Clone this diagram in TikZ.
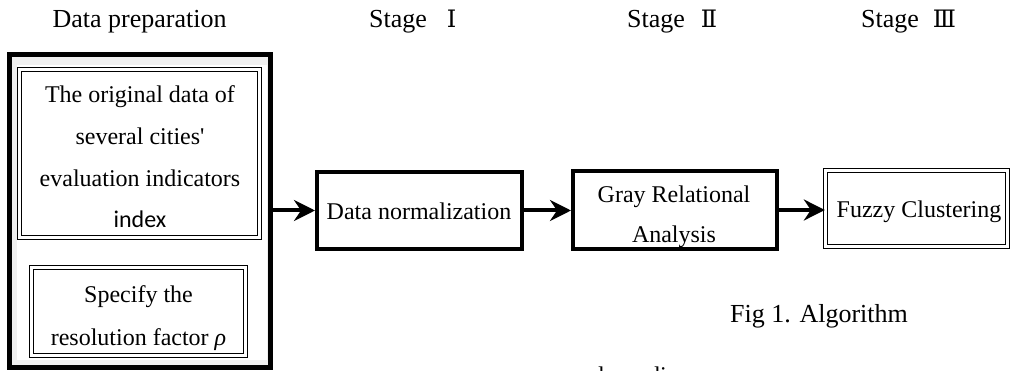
\documentclass[tikz,border=0pt]{standalone}
\usepackage{fontspec}
\setmainfont{Liberation Serif}
\newfontfamily\carlitofont{Carlito}
\newfontfamily\numfont{DejaVu Serif}
\usetikzlibrary{arrows.meta}
\begin{document}
\begin{tikzpicture}[x=1pt,y=-1pt,
  hdr/.style={font=\fontsize{26}{30}\selectfont, inner sep=0pt},
  body/.style={font=\fontsize{24}{41.5}\selectfont, align=center, inner sep=0pt},
  tbox/.style={draw, line width=4pt, inner sep=0pt},
  dbox/.style={draw, line width=1.1pt, double=white, double distance=2.6pt, inner sep=0pt},
  arr/.style={line width=4pt, -{Stealth[length=21pt,width=21pt,inset=7pt]}}]
\useasboundingbox (0,0) rectangle (1015,371);
\clip (0,0) rectangle (1015,371);
% outer preparation frame
\fill[gray!12] (12,57) rectangle (268.5,365);
\fill[white] (17,65) rectangle (267,360);
\node[draw, line width=5pt, inner sep=0pt, minimum width=261pt, minimum height=313pt] (prep) at (140,211) {};
% inner boxes
\node[dbox, minimum width=240.2pt, minimum height=168.2pt] (b1) at (139.5,153.5) {};
\node[dbox, minimum width=214.2pt, minimum height=88.2pt] (b2) at (138.5,311.5) {};
\node[tbox, minimum width=204.5pt, minimum height=77pt] (dn) at (419.25,210.5) {};
\node[tbox, minimum width=204pt, minimum height=78pt] (gra) at (675,210) {};
\node[dbox, minimum width=182.2pt, minimum height=76.2pt] (fz) at (916.5,208.5) {};
% connectors
\draw[arr] (prep.east |- dn.west) -- (dn.west);
\draw[arr] (dn.east) -- (gra.west |- dn.east);
\draw[arr] (gra.east) -- (fz.west |- gra.east);
% headings
\node[hdr, anchor=base] (tprep) at (139.5,28) {Data preparation};
\node[hdr, anchor=base west] (s1) at (369,28) {Stage\hspace{20pt}{\numfont\fontsize{24}{30}\selectfont Ⅰ}};
\node[hdr, anchor=base west] (s2) at (627,28) {Stage\hspace{16pt}{\numfont\fontsize{24}{30}\selectfont Ⅱ}};
\node[hdr, anchor=base west] (s3) at (861,28) {Stage\hspace{14pt}{\numfont\fontsize{24}{30}\selectfont Ⅲ}};
% box texts (base anchor = last line)
\node[body, font=\fontsize{24}{41.7}\selectfont, anchor=base] (t1) at (140,228) {The original data of\\several cities\textquotesingle\\evaluation indicators\\{\carlitofont index}};
\node[body, font=\fontsize{24}{43}\selectfont, anchor=base] (t2) at (138.5,345) {Specify the\\resolution factor \textit{ρ}};
\node[body, anchor=base] (tdn) at (419,220) {Data normalization};
\node[body, font=\fontsize{24}{40}\selectfont, anchor=base] (tgra) at (674,243) {Gray Relational\\Analysis};
\node[body, anchor=base] (tfz) at (919,218) {Fuzzy Clustering};
% caption
\node[hdr, anchor=base] (cap) at (819,323) {Fig 1. Algorithm};
\node[body, anchor=base west] (frag1) at (592,384) {d};
\node[body, anchor=base west] (frag2) at (648,384) {di};
\end{tikzpicture}
\end{document}
